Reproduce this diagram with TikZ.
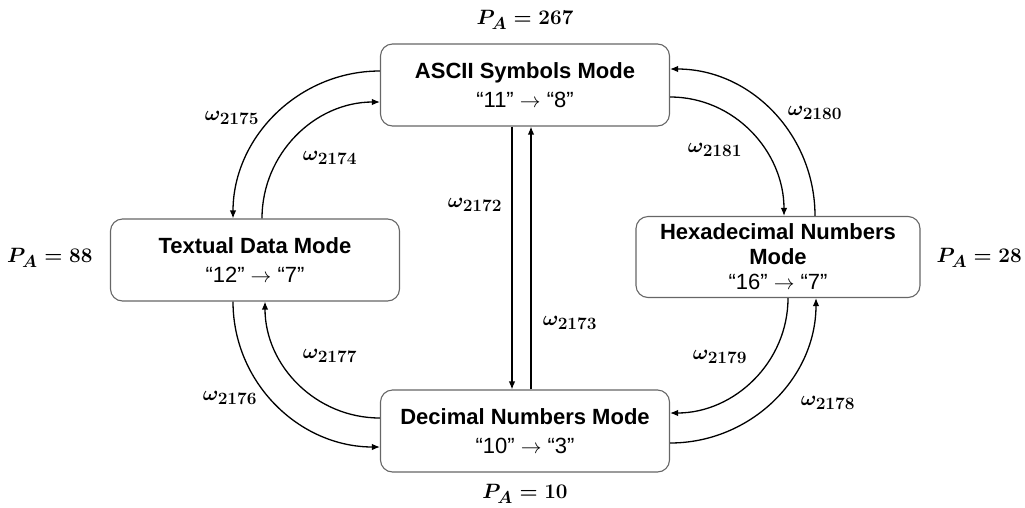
\documentclass[tikz,border=0pt]{standalone}
\usepackage{fontspec}
\setmainfont{Liberation Sans}
\usetikzlibrary{arrows.meta}
\DeclareMathSizes{20}{20}{16}{12}
\DeclareMathSizes{22}{22}{17}{13}

\begin{document}
\begin{tikzpicture}[
  x=1pt, y=-1pt,
  mode/.style={draw=black!60, line width=1.1pt, rounded corners=12pt, minimum width=289pt, minimum height=82pt, align=center, font=\fontsize{22}{25}\selectfont},
  arrow/.style={-{Latex[length=8pt,width=6.5pt]}, line width=1.3pt},
  weight/.style={font=\boldmath\fontsize{20}{24}\selectfont},
  prob/.style={font=\boldmath\fontsize{22}{25}\selectfont, inner sep=0pt}
]
  \useasboundingbox (0,0) rectangle (1025,507);

  % Mode boxes
  \node[mode] (ascii) at (525,85) {\textbf{ASCII Symbols Mode}\\[4pt]“11” $\rightarrow$ “8”};
  \node[mode] (textual) at (255,260) {\textbf{Textual Data Mode}\\[4pt]“12” $\rightarrow$ “7”};
  \node[mode, minimum width=284pt, minimum height=81pt] (hex) at (778,257) {\textbf{Hexadecimal Numbers}\\\textbf{Mode}\\“16” $\rightarrow$ “7”};
  \node[mode] (decimal) at (525,431) {\textbf{Decimal Numbers Mode}\\[4pt]“10” $\rightarrow$ “3”};

  % Probabilities next to the boxes
  \node[prob] (pascii) at (525,20) {$P_A = 267$};
  \node[prob, anchor=west] (ptextual) at (7,258) {$P_A = 88$};
  \node[prob, anchor=east] (phex) at (1022,258) {$P_A = 28$};
  \node[prob] (pdecimal) at (525,494) {$P_A = 10$};

  % ASCII <-> Textual
  \draw[arrow] ([yshift=14pt]ascii.west) to[out=180, in=90] ([xshift=-22pt]textual.north);
  \draw[arrow] ([xshift=7pt]textual.north) to[out=90, in=180] ([yshift=-17pt]ascii.west);
  \node[weight] (w2175) at (232,118) {$\omega_{2175}$};
  \node[weight] (w2174) at (330,158) {$\omega_{2174}$};

  % ASCII <-> Hexadecimal
  \draw[arrow] ([xshift=37pt]hex.north) to[out=90, in=0] ([yshift=16pt]ascii.east);
  \draw[arrow] ([yshift=-12pt]ascii.east) to[out=0, in=90] ([xshift=6pt]hex.north);
  \node[weight] (w2180) at (815,113) {$\omega_{2180}$};
  \node[weight] (w2181) at (715,150) {$\omega_{2181}$};

  % ASCII <-> Decimal
  \draw[arrow] ([xshift=-13pt]ascii.south) -- ([xshift=-13pt]decimal.north);
  \draw[arrow] ([xshift=6pt]decimal.north) -- ([xshift=6pt]ascii.south);
  \node[weight] (w2172) at (475,205) {$\omega_{2172}$};
  \node[weight] (w2173) at (570,323) {$\omega_{2173}$};

  % Textual <-> Decimal
  \draw[arrow] ([xshift=-22pt]textual.south) to[out=-90, in=180] ([yshift=-16pt]decimal.west);
  \draw[arrow] ([yshift=13pt]decimal.west) to[out=180, in=-90] ([xshift=10pt]textual.south);
  \node[weight] (w2176) at (230,398) {$\omega_{2176}$};
  \node[weight] (w2177) at (330,356) {$\omega_{2177}$};

  % Hexadecimal <-> Decimal
  \draw[arrow] ([xshift=10pt]hex.south) to[out=-90, in=0] ([yshift=18pt]decimal.east);
  \draw[arrow] ([yshift=-12pt]decimal.east) to[out=0, in=-90] ([xshift=38pt]hex.south);
  \node[weight] (w2179) at (720,357) {$\omega_{2179}$};
  \node[weight] (w2178) at (828,403) {$\omega_{2178}$};
\end{tikzpicture}
\end{document}
